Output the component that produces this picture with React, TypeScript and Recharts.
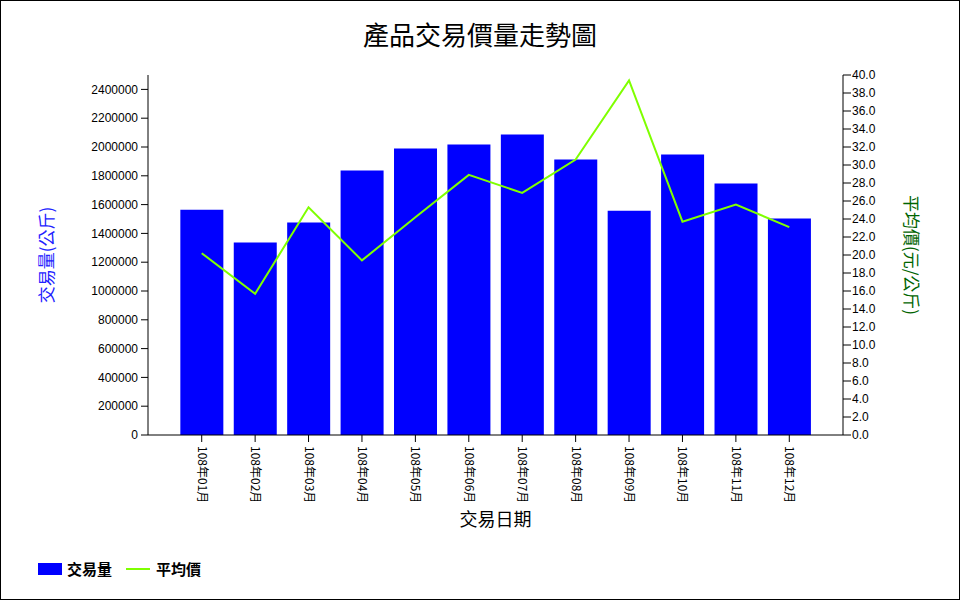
import React from 'react';
import {
  ComposedChart,
  Bar,
  Line,
  XAxis,
  YAxis,
} from 'recharts';

// months shown on the x axis
const months = [
  '108年01月', '108年02月', '108年03月', '108年04月', '108年05月', '108年06月',
  '108年07月', '108年08月', '108年09月', '108年10月', '108年11月', '108年12月',
];

// 交易量 (公斤)
const volumes = [
  1565000, 1336000, 1475000, 1837000, 1990000, 2017000,
  2087000, 1913000, 1558000, 1948000, 1746000, 1503000,
];

// 平均價 (元/公斤)
const prices = [20.2, 15.7, 25.3, 19.4, 24.2, 28.9, 26.9, 30.6, 39.4, 23.7, 25.6, 23.1];

const volumeTicks = [0, 200000, 400000, 600000, 800000, 1000000, 1200000, 1400000, 1600000, 1800000, 2000000, 2200000, 2400000];
const priceTicks = [0, 2, 4, 6, 8, 10, 12, 14, 16, 18, 20, 22, 24, 26, 28, 30, 32, 34, 36, 38, 40];

const data = months.map((m, i) => ({ month: m, volume: volumes[i], price: prices[i] }));

const CJK = '"Noto Sans CJK TC", "Noto Sans CJK SC", sans-serif';
const NUM = '"Liberation Sans", Arial, sans-serif';

// rotated month label under each category
const MonthTick = ({ x, y, payload }: any) => (
  <text
    x={0}
    y={0}
    transform={`translate(${x - 4}, ${y + 2}) rotate(90)`}
    textAnchor="start"
    fontSize={12}
    fontFamily={CJK}
    fill="#000"
  >
    {payload.value}
  </text>
);

export default function App() {
  return (
    <div
      style={{
        position: 'absolute',
        top: 0,
        left: 0,
        width: 960,
        height: 600,
        border: '1px solid #000',
        boxSizing: 'border-box',
        background: '#fff',
      }}
    >
      <div
        style={{
          position: 'absolute',
          top: 14,
          left: 0,
          width: 958,
          textAlign: 'center',
          fontSize: 26,
          fontFamily: CJK,
          color: '#000',
        }}
      >
        產品交易價量走勢圖
      </div>
      <div style={{ position: 'absolute', top: -1, left: -1 }}>
        <ComposedChart
          width={960}
          height={600}
          data={data}
          margin={{ top: 75, right: 0, bottom: 0, left: 0 }}
          barCategoryGap="10%"
        >
          <XAxis
            dataKey="month"
            height={165}
            padding={{ left: 27, right: 27 }}
            stroke="#000"
            tickSize={7}
            tick={<MonthTick />}
            interval={0}
            label={{
              content: ({ viewBox }: any) => (
                <text
                  x={viewBox.x + viewBox.width / 2}
                  y={526}
                  textAnchor="middle"
                  fontSize={18}
                  fontFamily={CJK}
                  fill="#000"
                >
                  交易日期
                </text>
              ),
            }}
          />
          <YAxis
            yAxisId="left"
            width={148}
            domain={[0, 2500000]}
            ticks={volumeTicks}
            interval={0}
            stroke="#000"
            tickSize={7}
            tickMargin={3}
            tick={{ fill: '#000', fontSize: 12, fontFamily: NUM }}
            label={{
              content: ({ viewBox }: any) => {
                const cy = viewBox.y + viewBox.height / 2;
                return (
                  <text
                    x={0}
                    y={0}
                    transform={`translate(53, ${cy}) rotate(-90)`}
                    textAnchor="middle"
                    fontSize={17}
                    fontFamily={CJK}
                    fill="#2222ff"
                  >
                    交易量(公斤)
                  </text>
                );
              },
            }}
          />
          <YAxis
            yAxisId="right"
            orientation="right"
            width={117}
            domain={[0, 40]}
            ticks={priceTicks}
            interval={0}
            stroke="#000"
            tickSize={8}
            tickMargin={1}
            tickFormatter={(v: number) => v.toFixed(1)}
            tick={{ fill: '#000', fontSize: 12, fontFamily: NUM }}
            label={{
              content: ({ viewBox }: any) => {
                const cy = viewBox.y + viewBox.height / 2;
                return (
                  <text
                    x={0}
                    y={0}
                    transform={`translate(905, ${cy}) rotate(90)`}
                    textAnchor="middle"
                    fontSize={17}
                    fontFamily={CJK}
                    fill="#006400"
                  >
                    平均價(元/公斤)
                  </text>
                );
              },
            }}
          />
          <Bar yAxisId="left" dataKey="volume" name="交易量" fill="#0000ff" isAnimationActive={false} />
          <Line
            yAxisId="right"
            dataKey="price"
            name="平均價"
            type="linear"
            stroke="#7fff00"
            strokeWidth={2}
            dot={false}
            activeDot={false}
            isAnimationActive={false}
          />
        </ComposedChart>
      </div>
      <div
        style={{
          position: 'absolute',
          top: 557,
          left: 37,
          display: 'flex',
          alignItems: 'center',
          fontFamily: CJK,
          fontSize: 15,
          fontWeight: 'bold',
          color: '#000',
        }}
      >
        <span style={{ display: 'inline-block', width: 24, height: 12, background: '#0000ff', marginRight: 5 }} />
        <span>交易量</span>
        <span style={{ display: 'inline-block', width: 24, height: 2, background: '#7fff00', margin: '0 6px 0 14px' }} />
        <span>平均價</span>
      </div>
    </div>
  );
}
